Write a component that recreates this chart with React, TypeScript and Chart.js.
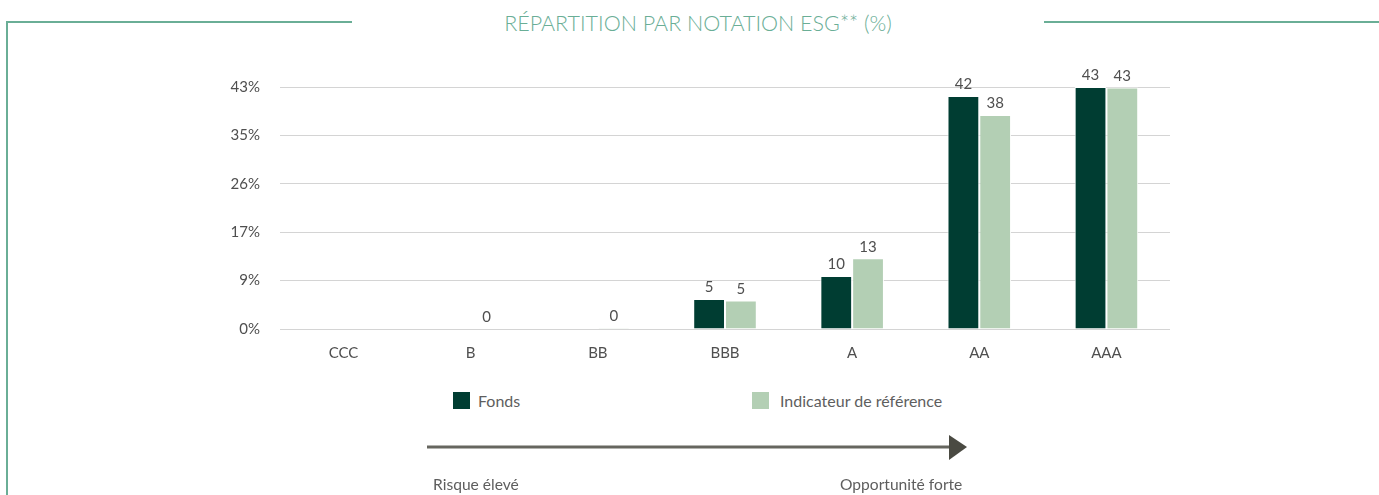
import React, { useEffect, useRef } from "react";
import { Chart, registerables } from "chart.js";

Chart.register(...registerables);

const categories = ["CCC", "B", "BB", "BBB", "A", "AA", "AAA"];
const fondsValues: (number | null)[] = [null, null, null, 5.4, 9.5, 41.8, 43.4];
const indicateurValues: (number | null)[] = [null, 0.05, 0.2, 5.1, 12.7, 38.4, 43.3];
const yTickLabels = ["0%", "9%", "17%", "26%", "35%", "43%"];
const seriesNames = ["Fonds", "Indicateur de référence"];
const seriesColors = ["#003d32", "#b3cfb4"];
const titleText = "RÉPARTITION PAR NOTATION ESG** (%)";
const arrowLabels = ["Risque élevé", "Opportunité forte"];

const Y_MAX = 43.4;
const Y_STEP = Y_MAX / 5;
const FONT = "Lato, 'Open Sans', sans-serif";
const FRAME = "#6aae96";

const valueLabels = {
  id: "valueLabels",
  afterDatasetsDraw(chart: any) {
    const ctx = chart.ctx;
    ctx.save();
    ctx.font = `15px ${FONT}`;
    ctx.fillStyle = "#4f4f4f";
    ctx.textAlign = "center";
    ctx.textBaseline = "bottom";
    chart.data.datasets.forEach((ds: any, di: number) => {
      const meta = chart.getDatasetMeta(di);
      meta.data.forEach((bar: any, i: number) => {
        const v = ds.data[i];
        if (v === null || v === undefined) return;
        ctx.fillText(String(Math.round(v)), bar.x, bar.y - 4);
      });
    });
    ctx.restore();
  },
};

function BarChart() {
  const ref = useRef<HTMLCanvasElement>(null);
  useEffect(() => {
    if (!ref.current) return;
    const chart = new Chart(ref.current, {
      type: "bar",
      data: {
        labels: categories,
        datasets: [
          {
            label: seriesNames[0],
            data: fondsValues,
            backgroundColor: seriesColors[0],
            borderColor: "#ffffff",
            borderWidth: 1,
            categoryPercentage: 0.5,
            barPercentage: 1,
          },
          {
            label: seriesNames[1],
            data: indicateurValues,
            backgroundColor: seriesColors[1],
            borderColor: "#ffffff",
            borderWidth: 1,
            categoryPercentage: 0.5,
            barPercentage: 1,
          },
        ],
      },
      options: {
        animation: false,
        responsive: false,
        maintainAspectRatio: false,
        layout: { padding: { top: 25, right: 10, left: 0, bottom: 0 } },
        plugins: {
          legend: { display: false },
          tooltip: { enabled: false },
          title: { display: false },
        },
        scales: {
          x: {
            grid: { display: false, drawTicks: false },
            border: { display: false },
            ticks: {
              color: "#4f4f4f",
              font: { family: FONT, size: 15 },
              padding: 15,
            },
            afterFit(scale: any) {
              scale.height = 36;
            },
          },
          y: {
            min: 0,
            max: Y_MAX,
            grid: { color: "#d4d4d4", lineWidth: 1, drawTicks: false },
            border: { display: false },
            ticks: {
              stepSize: Y_STEP,
              color: "#4f4f4f",
              font: { family: FONT, size: 15 },
              padding: 20,
              callback: (_v: any, idx: number) => yTickLabels[idx],
            },
            afterFit(scale: any) {
              scale.width = 70;
            },
          },
        },
      },
      plugins: [valueLabels],
    });
    return () => chart.destroy();
  }, []);
  return (
    <canvas
      ref={ref}
      width={970}
      height={307}
      style={{ position: "absolute", left: 210, top: 58, width: 970, height: 307 }}
    />
  );
}

export default function App() {
  const textStyle: React.CSSProperties = {
    position: "absolute",
    fontFamily: FONT,
    fontSize: 16,
    color: "#5e5e5e",
    whiteSpace: "nowrap",
    lineHeight: "18px",
  };
  return (
    <div
      style={{
        position: "absolute",
        left: 0,
        top: 0,
        width: 1379,
        height: 495,
        background: "#ffffff",
        overflow: "hidden",
      }}
    >
      {/* frame */}
      <div style={{ position: "absolute", left: 6, top: 21, width: 346, height: 2, background: FRAME }} />
      <div style={{ position: "absolute", left: 1044, top: 21, width: 335, height: 2, background: FRAME }} />
      <div style={{ position: "absolute", left: 6, top: 21, width: 2, height: 474, background: FRAME }} />
      {/* title */}
      <div
        style={{
          position: "absolute",
          left: 352,
          width: 692,
          top: 9,
          textAlign: "center",
          fontFamily: FONT,
          fontSize: 21.5,
          fontWeight: 300,
          color: "#6aae96",
          lineHeight: "28px",
          whiteSpace: "nowrap",
        }}
      >
        {titleText}
      </div>
      <BarChart />
      {/* legend */}
      <div style={{ position: "absolute", left: 453, top: 392, width: 17, height: 17, background: seriesColors[0] }} />
      <div style={{ ...textStyle, left: 478, top: 392 }}>{seriesNames[0]}</div>
      <div style={{ position: "absolute", left: 752, top: 392, width: 17, height: 17, background: seriesColors[1] }} />
      <div style={{ ...textStyle, left: 780, top: 392 }}>{seriesNames[1]}</div>
      {/* arrow */}
      <svg style={{ position: "absolute", left: 0, top: 0 }} width={1379} height={495}>
        <line x1={427} y1={447} x2={952} y2={447} stroke="#66665f" strokeWidth={3} />
        <polygon points="949,435 967,447 949,460" fill="#4a4a42" />
      </svg>
      <div style={{ ...textStyle, left: 433, top: 475, fontSize: 15.6 }}>{arrowLabels[0]}</div>
      <div style={{ ...textStyle, left: 840, top: 475, fontSize: 15.6 }}>{arrowLabels[1]}</div>
    </div>
  );
}
